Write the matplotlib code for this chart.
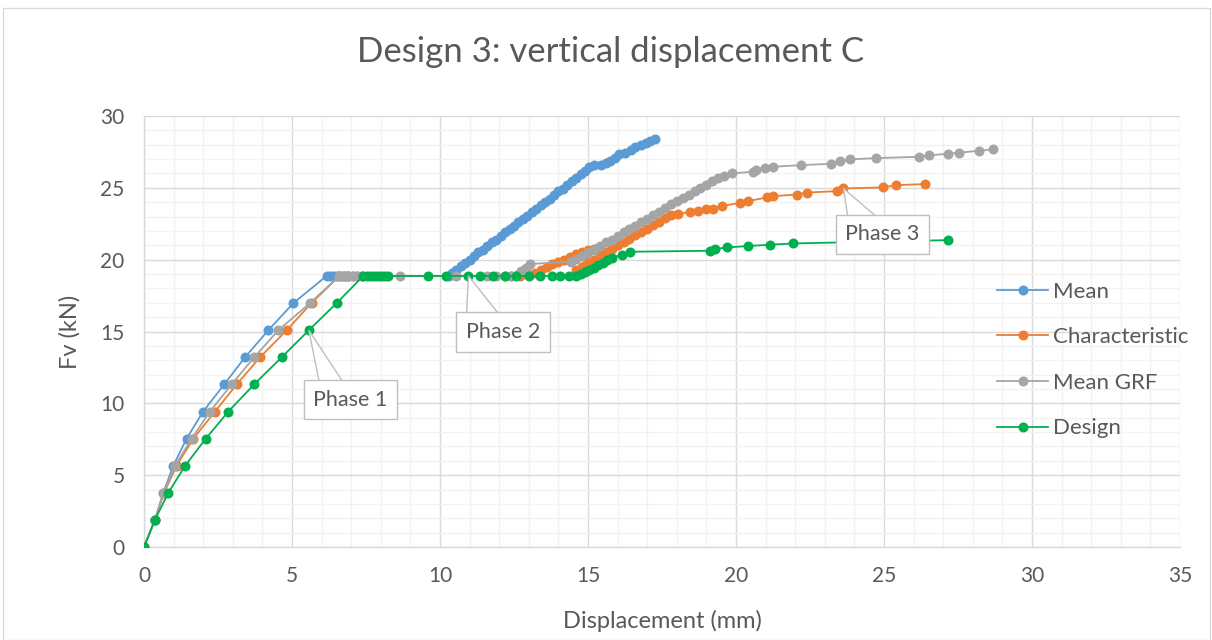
import matplotlib
matplotlib.use("Agg")
import matplotlib.pyplot as plt
from matplotlib.patches import Rectangle, Polygon
from matplotlib.ticker import MultipleLocator

plt.rcParams['font.family'] = ['Lato', 'DejaVu Sans']

title = "Design 3: vertical displacement C"
x_label = "Displacement (mm)"
y_label = "Fv (kN)"
series_names = ["Mean", "Characteristic", "Mean GRF", "Design"]
series_colors = ["#5B9BD5", "#ED7D31", "#A5A5A5", "#00B050"]

mean_x = [0, 0.37, 0.65, 0.99, 1.44, 2.0, 2.71, 3.41, 4.2, 5.05, 6.17,
          6.3, 6.4, 6.5, 6.6, 6.7, 6.8, 6.9, 10.3,
          10.4, 10.55, 10.7, 10.85, 11.0, 11.15, 11.3, 11.45, 11.6, 11.75, 11.9,
          12.05, 12.2, 12.35, 12.5, 12.65, 12.8, 12.95, 13.1, 13.25, 13.4, 13.55,
          13.7, 13.85, 14.0, 14.15, 14.3, 14.45, 14.6, 14.75, 14.9, 15.05, 15.2,
          15.45, 15.6, 15.75, 15.9, 16.05, 16.25, 16.45, 16.6, 16.8, 16.95, 17.1, 17.26]
mean_y = [0, 1.89, 3.77, 5.66, 7.55, 9.43, 11.32, 13.2, 15.09, 16.98, 18.87,
          18.87, 18.87, 18.87, 18.87, 18.87, 18.87, 18.87, 18.87,
          19.05, 19.3, 19.55, 19.8, 20.0, 20.25, 20.5, 20.7, 20.95, 21.2, 21.4,
          21.65, 21.9, 22.1, 22.35, 22.6, 22.85, 23.05, 23.3, 23.55, 23.8, 24.0,
          24.25, 24.5, 24.75, 24.95, 25.2, 25.45, 25.7, 25.95, 26.2, 26.45, 26.58,
          26.6, 26.75, 26.9, 27.1, 27.35, 27.45, 27.6, 27.85, 28.0, 28.15, 28.25, 28.37]

char_x = [0, 0.37, 0.68, 1.1, 1.67, 2.4, 3.13, 3.92, 4.82, 5.66, 6.6,
          6.75, 6.9, 7.05, 7.2, 7.35, 12.4, 12.7,
          13.0, 13.2, 13.4, 13.6, 13.8, 14.0, 14.2, 14.4, 14.6, 14.8, 15.0, 15.2, 15.35,
          14.6, 14.8, 15.0, 15.2, 15.4, 15.6, 15.8, 16.0, 16.2, 16.4, 16.6, 16.8,
          17.0, 17.2, 17.4, 17.6, 17.8,
          18.05, 18.45, 18.73, 18.99, 19.23, 19.52, 20.14, 20.42, 21.04, 21.24,
          22.05, 22.39, 23.4, 23.63, 24.97, 25.42, 26.39]
char_y = [0, 1.89, 3.77, 5.66, 7.55, 9.43, 11.32, 13.2, 15.09, 16.98, 18.87,
          18.87, 18.87, 18.87, 18.87, 18.87, 18.87, 18.87,
          18.93, 19.1, 19.3, 19.5, 19.7, 19.85, 20.0, 20.2, 20.4, 20.55, 20.65, 20.75, 20.8,
          19.3, 19.5, 19.75, 20.0, 20.25, 20.5, 20.75, 21.0, 21.2, 21.45, 21.7, 21.9,
          22.15, 22.4, 22.65, 22.9, 23.1,
          23.17, 23.34, 23.41, 23.5, 23.56, 23.73, 23.96, 24.08, 24.33, 24.42,
          24.53, 24.67, 24.77, 24.96, 25.03, 25.19, 25.26]

grf_x = [0, 0.37, 0.66, 1.05, 1.61, 2.23, 2.96, 3.72, 4.54, 5.61, 6.6,
         6.75, 6.9, 7.05, 7.2, 7.35, 8.65, 10.54, 11.6, 11.9, 12.2, 12.4,
         12.6, 12.75, 12.9, 13.05,
         14.44, 14.6, 14.8, 15.0, 15.2, 15.4, 15.6, 15.8, 16.0, 16.2, 16.4, 16.6,
         16.8, 17.0, 17.2, 17.4, 17.6, 17.8, 18.0, 18.2, 18.4, 18.6, 18.8, 19.0,
         19.2, 19.4, 19.6, 19.85,
         20.58, 20.68, 20.98, 21.26, 22.21, 23.22, 23.53, 23.85, 24.74, 26.19,
         26.53, 27.17, 27.54, 28.22, 28.67]
grf_y = [0, 1.89, 3.77, 5.66, 7.55, 9.43, 11.32, 13.2, 15.09, 16.98, 18.87,
         18.87, 18.87, 18.87, 18.87, 18.87, 18.87, 18.87, 18.87, 18.87, 18.87, 18.87,
         18.95, 19.2, 19.45, 19.7,
         19.86, 20.05, 20.25, 20.5, 20.7, 20.95, 21.2, 21.4, 21.65, 21.9, 22.1, 22.35,
         22.6, 22.85, 23.1, 23.35, 23.6, 23.85, 24.05, 24.3, 24.5, 24.75, 25.0, 25.2,
         25.45, 25.65, 25.85, 26.0,
         26.12, 26.23, 26.35, 26.47, 26.58, 26.68, 26.84, 26.98, 27.07, 27.16,
         27.26, 27.38, 27.45, 27.58, 27.67]

design_x = [0, 0.37, 0.82, 1.39, 2.09, 2.85, 3.72, 4.65, 5.57, 6.51, 7.41,
            7.55, 7.65, 7.75, 7.85, 7.95, 8.05, 8.15, 8.25,
            9.6, 10.2, 10.96, 11.35, 11.78, 12.2, 12.57, 13.02, 13.38, 13.77, 14.07,
            14.37, 14.6,
            14.75, 14.9, 15.05, 15.2, 15.35, 15.5, 15.65, 15.8, 16.14, 16.42,
            19.12, 19.29, 19.68, 20.42, 21.15, 21.94, 27.17]
design_y = [0, 1.89, 3.77, 5.66, 7.55, 9.43, 11.32, 13.2, 15.09, 16.98, 18.87,
            18.87, 18.87, 18.87, 18.87, 18.87, 18.87, 18.87, 18.87,
            18.87, 18.87, 18.87, 18.87, 18.87, 18.87, 18.87, 18.87, 18.87, 18.87, 18.87,
            18.87, 18.87,
            19.0, 19.15, 19.3, 19.45, 19.6, 19.78, 19.95, 20.15, 20.32, 20.55,
            20.62, 20.74, 20.85, 20.95, 21.04, 21.13, 21.36]

callout_labels = ["Phase 1", "Phase 2", "Phase 3"]
callout_points = [(5.57, 15.09), (10.96, 18.87), (23.63, 24.96)]
callout_boxes = [(6.98, 10.26), (12.13, 14.96), (24.95, 21.77)]
callout_bases = [(5.91, 6.69), (10.9, 11.96), (23.77, 24.69)]
box_half_height = 1.32

W, H = 1212, 640
fig = plt.figure(figsize=(W / 100, H / 100), dpi=100)
fig.patches.append(Rectangle((3 / W, 0), (W - 5) / W, (H - 8) / H,
                             transform=fig.transFigure, fill=False,
                             edgecolor="#D9D9D9", linewidth=1.0))
ax = fig.add_axes([144 / W, (H - 547) / H, (1180 - 144) / W, (547 - 116) / H])

all_x = [mean_x, char_x, grf_x, design_x]
all_y = [mean_y, char_y, grf_y, design_y]
for xs, ys, name, col in zip(all_x, all_y, series_names, series_colors):
    ax.plot(xs, ys, color=col, linewidth=1.3, marker="o", markersize=7.2,
            markeredgewidth=0, label=name, zorder=3)

ax.set_xlim(0, 35)
ax.set_ylim(0, 30)
ax.xaxis.set_major_locator(MultipleLocator(5))
ax.xaxis.set_minor_locator(MultipleLocator(1))
ax.yaxis.set_major_locator(MultipleLocator(5))
ax.yaxis.set_minor_locator(MultipleLocator(1))
ax.grid(which="minor", color="#F2F2F2", linewidth=1.0, zorder=0)
ax.grid(which="major", color="#D9D9D9", linewidth=1.0, zorder=1)
ax.set_axisbelow(True)
for s in ["top", "right"]:
    ax.spines[s].set_visible(False)
for s in ["left", "bottom"]:
    ax.spines[s].set_color("#D9D9D9")
    ax.spines[s].set_linewidth(1.0)
ax.tick_params(which="both", length=0, labelsize=15, labelcolor="#595959")
ax.tick_params(axis="x", pad=14)
ax.tick_params(axis="y", pad=14)

ax.set_xlabel(x_label, fontsize=17, color="#595959", labelpad=17)
ax.set_ylabel(y_label, fontsize=17, color="#595959", labelpad=14)
fig.text(611 / W, 1 - 52 / H, title, ha="center", va="center",
         fontsize=25, color="#595959")

for lab, pt, bx, base in zip(callout_labels, callout_points, callout_boxes, callout_bases):
    top = bx[1] + box_half_height
    ax.add_patch(Polygon([(base[0], top), pt, (base[1], top)], closed=False,
                         fc="white", ec="#BFBFBF", lw=1.0, zorder=4))
    ax.text(bx[0], bx[1], lab, ha="center", va="center",
            fontsize=15.5, color="#595959", zorder=5,
            bbox=dict(boxstyle="square,pad=0.45", fc="white",
                      ec="#BFBFBF", lw=1.0))

leg = ax.legend(loc="center left", bbox_to_anchor=((997 - 144) / 1036, (547 - 360) / 431),
                frameon=False, fontsize=16, labelspacing=1.15, handlelength=2.3,
                handletextpad=0.2, borderpad=0, borderaxespad=0)
for t in leg.get_texts():
    t.set_color("#595959")

fig.savefig("out.png", dpi=100, facecolor="white")
